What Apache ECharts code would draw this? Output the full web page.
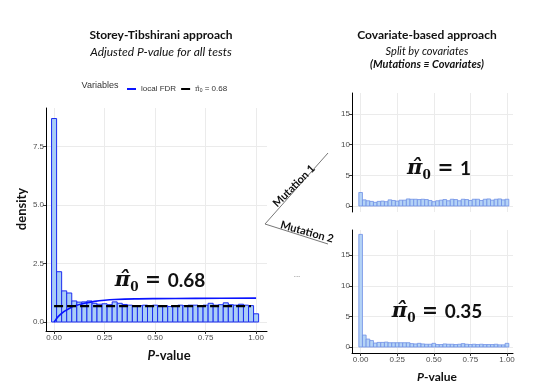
<!DOCTYPE html>
<html>
<head>
<meta charset="utf-8">
<script src="https://cdn.jsdelivr.net/npm/echarts@6/dist/echarts.min.js"></script>
<style>
html,body{margin:0;padding:0;background:#fff}
#main{width:533px;height:383px}
</style>
</head>
<body>
<div id="main"></div>
<script>
// bin centres of the histograms (binwidth 0.025)
var binMid = [0, 0.025, 0.05, 0.075, 0.1, 0.125, 0.15, 0.175, 0.2, 0.225, 0.25, 0.275, 0.3, 0.325, 0.35, 0.375, 0.4, 0.425, 0.45, 0.475, 0.5,
  0.525, 0.55, 0.575, 0.6, 0.625, 0.65, 0.675, 0.7, 0.725, 0.75, 0.775, 0.8, 0.825, 0.85, 0.875, 0.9, 0.925, 0.95, 0.975, 1];
var binW = 0.025;
// density, all tests
var allTests = [8.7, 2.15, 1.33, 1.24, 0.9, 0.85, 0.86, 0.9, 0.8, 0.76, 0.78, 0.74, 0.86, 0.8, 0.75, 0.72, 0.7, 0.7, 0.72, 0.7, 0.72,
  0.7, 0.7, 0.66, 0.68, 0.72, 0.7, 0.72, 0.72, 0.7, 0.72, 0.8, 0.72, 0.74, 0.82, 0.74, 0.72, 0.76, 0.72, 0.7, 0.35];
// density, mutation 1 / mutation 2
var mutation1 = [2.2, 1.0, 0.85, 0.75, 0.6, 0.75, 0.8, 0.7, 1.0, 0.9, 0.8, 0.95, 0.95, 1.15, 1.1, 1.1, 1.05, 1.1, 1.05, 0.9, 0.7,
  0.85, 0.95, 1.05, 0.85, 1.1, 1.05, 0.85, 1.1, 1.05, 0.9, 1.1, 1.1, 0.9, 1.1, 1.15, 0.95, 1.1, 1.15, 1.0, 1.1];
var mutation2 = [18.4, 1.95, 1.3, 1.05, 0.65, 0.75, 0.75, 0.8, 0.7, 0.7, 0.7, 0.7, 0.7, 0.7, 0.55, 0.5, 0.6, 0.5, 0.45, 0.45, 0.6,
  0.4, 0.4, 0.5, 0.45, 0.45, 0.4, 0.45, 0.55, 0.45, 0.4, 0.45, 0.4, 0.45, 0.4, 0.4, 0.4, 0.45, 0.35, 0.35, 0.6];
// local FDR curve
var lfdrP = [0, 0.01, 0.025, 0.05, 0.075, 0.1, 0.15, 0.2, 0.25, 0.3, 0.4, 0.5, 0.7, 1];
var lfdrVal = [0, 0.12, 0.27, 0.45, 0.58, 0.68, 0.8, 0.88, 0.93, 0.96, 0.99, 1.0, 1.01, 1.02];
var pi0All = 0.68;
var pi0End = 0.975;
// tick labels
var pTicks = [0, 0.25, 0.5, 0.75, 1];
var densTicks = [0, 2.5, 5, 7.5];
var covTicks = [0, 5, 10, 15];

var tickFont = 'Liberation Sans';
var sansBold = 'Lato';

function pairs(xs, ys) {
  return xs.map(function (x, i) { return [x, ys[i]]; });
}

function histItem(fill, edge, lw) {
  return function (params, api) {
    var x = api.value(0), y = api.value(1);
    var a = api.coord([x - binW / 2, y]);
    var b = api.coord([x + binW / 2, 0]);
    return {
      type: 'rect',
      shape: { x: a[0], y: a[1], width: b[0] - a[0], height: b[1] - a[1] },
      style: { fill: fill, stroke: edge, lineWidth: lw }
    };
  };
}

function xAx(grid, min, max, labels, line) {
  return {
    type: 'value', gridIndex: grid, min: min, max: max,
    axisLine: { show: line, onZero: false, lineStyle: { color: '#000', width: 1 } },
    axisTick: { show: labels, customValues: pTicks, length: 3, lineStyle: { color: '#333' } },
    axisLabel: { show: labels, customValues: pTicks, margin: 3, fontSize: 8, color: '#4d4d4d', fontFamily: tickFont,
      formatter: function (v) { return v.toFixed(2); } },
    splitLine: { show: true, lineStyle: { color: '#ebebeb', width: 1 } }
  };
}

function yAx(grid, min, max, ticks, dec) {
  return {
    type: 'value', gridIndex: grid, min: min, max: max,
    axisLine: { show: true, onZero: false, lineStyle: { color: '#000', width: 1 } },
    axisTick: { show: true, customValues: ticks, length: 3, lineStyle: { color: '#333' } },
    axisLabel: { customValues: ticks, margin: 2, fontSize: 8, color: '#4d4d4d', fontFamily: tickFont,
      formatter: function (v) { return v.toFixed(dec); } },
    splitLine: { show: true, lineStyle: { color: '#ebebeb', width: 1 } }
  };
}

var piRich = {
  p: { fontFamily: 'DejaVu Serif', fontWeight: 'bold', fontStyle: 'italic', fontSize: 21, lineHeight: 26, fill: '#111' },
  s: { fontFamily: 'DejaVu Serif', fontWeight: 'bold', fontSize: 12, lineHeight: 12, verticalAlign: 'bottom', fill: '#111' },
  e: { fontFamily: 'DejaVu Sans', fontWeight: 'bold', fontSize: 19, lineHeight: 26, fill: '#111' },
  t: { fontFamily: sansBold, fontWeight: 'bold', fontSize: 19, lineHeight: 26, fill: '#111' }
};

function piText(x, y, value) {
  return {
    type: 'text', x: x, y: y, z: 50,
    style: { text: '{p|\u03C0\u0302}{s|0}{e| = }{t|' + value + '}', rich: piRich, align: 'center', verticalAlign: 'middle' }
  };
}

function label(x, y, text, opts) {
  var st = { text: text, fontFamily: sansBold, fontSize: 12, fontWeight: 'bold', fill: '#111', align: 'center', verticalAlign: 'middle' };
  for (var k in opts) st[k] = opts[k];
  return { type: 'text', x: x, y: y, style: st };
}

var chart = echarts.init(document.getElementById('main'), null, { renderer: 'canvas' });

var option = {
  animation: false,
  backgroundColor: '#fff',
  grid: [
    { left: 46, top: 108, width: 221, height: 223, outerBoundsMode: 'none' },
    { left: 352, top: 93, width: 161, height: 119, outerBoundsMode: 'none' },
    { left: 352, top: 230, width: 161, height: 123, outerBoundsMode: 'none' }
  ],
  xAxis: [
    xAx(0, -0.04, 1.054, true, true),
    xAx(1, -0.059, 1.041, false, false),
    xAx(2, -0.059, 1.041, true, true)
  ],
  yAxis: [
    yAx(0, -0.385, 9.15, densTicks, 1),
    yAx(1, -0.98, 18.43, covTicks, 0),
    yAx(2, -0.98, 19.12, covTicks, 0)
  ],
  legend: {
    left: 122, top: 80, icon: 'rect', itemWidth: 9, itemHeight: 2, itemGap: 5,
    data: ['local FDR', 'pi0'],
    textStyle: { fontSize: 8, color: '#333', fontFamily: tickFont,
      rich: {
        p: { fontSize: 7, fontFamily: 'DejaVu Serif', color: '#333' },
        s: { fontSize: 5, color: '#333', verticalAlign: 'bottom', lineHeight: 6 }
      } },
    formatter: function (n) {
      return n === 'pi0' ? '{p|\u03C0\u0302}{s|0} = ' + pi0All : n;
    }
  },
  series: [
    {
      type: 'custom', name: 'all tests', xAxisIndex: 0, yAxisIndex: 0, z: 2,
      renderItem: histItem('#a9cdf6', '#1c2cf0', 1),
      data: pairs(binMid, allTests)
    },
    {
      type: 'line', name: 'local FDR', xAxisIndex: 0, yAxisIndex: 0, z: 4,
      smooth: 0.3, showSymbol: false, color: '#0a14ff',
      lineStyle: { width: 1.6, color: '#0a14ff' },
      data: pairs(lfdrP, lfdrVal)
    },
    {
      type: 'line', name: 'pi0', xAxisIndex: 0, yAxisIndex: 0, z: 5,
      showSymbol: false, color: '#000',
      lineStyle: { width: 2.2, color: '#000', type: [9, 4] },
      data: [[0, pi0All], [pi0End, pi0All]]
    },
    {
      type: 'custom', name: 'Mutation 1', xAxisIndex: 1, yAxisIndex: 1, z: 2,
      renderItem: histItem('#b4d3f6', '#6f8fe6', 0.8),
      data: pairs(binMid, mutation1)
    },
    {
      type: 'custom', name: 'Mutation 2', xAxisIndex: 2, yAxisIndex: 2, z: 2,
      renderItem: histItem('#b4d3f6', '#6f8fe6', 0.8),
      data: pairs(binMid, mutation2)
    }
  ],
  graphic: [
    label(161, 35, 'Storey-Tibshirani approach', {}),
    label(161, 52, 'Adjusted P-value for all tests', { fontWeight: 'normal', fontStyle: 'italic' }),
    label(427, 35, 'Covariate-based approach', {}),
    label(427, 51, 'Split by covariates', { fontWeight: 'normal', fontStyle: 'italic', fontSize: 11 }),
    label(427, 64, '(Mutations \u2261 Covariates)', { fontStyle: 'italic', fontSize: 11 }),
    label(100, 86, 'Variables', { fontFamily: tickFont, fontWeight: 'normal', fontSize: 9, fill: '#333' }),
    {
      type: 'text', x: 22, y: 209, rotation: Math.PI / 2,
      style: { text: 'density', fontFamily: sansBold, fontWeight: 'bold', fontSize: 13, fill: '#111', align: 'center', verticalAlign: 'middle' }
    },
    {
      type: 'text', x: 169, y: 356,
      style: { text: '{i|P}-value', fontFamily: sansBold, fontWeight: 'bold', fontSize: 13, fill: '#111', align: 'center', verticalAlign: 'middle',
        rich: { i: { fontFamily: sansBold, fontWeight: 'bold', fontStyle: 'italic', fontSize: 13, fill: '#111' } } }
    },
    {
      type: 'text', x: 437, y: 377,
      style: { text: '{i|P}-value', fontFamily: sansBold, fontWeight: 'bold', fontSize: 12, fill: '#111', align: 'center', verticalAlign: 'middle',
        rich: { i: { fontFamily: sansBold, fontWeight: 'bold', fontStyle: 'italic', fontSize: 12, fill: '#111' } } }
    },
    piText(160, 281, '0.68'),
    piText(439, 169, '1'),
    piText(437, 312, '0.35'),
    { type: 'line', shape: { x1: 265, y1: 224, x2: 328, y2: 153 }, style: { stroke: '#777', lineWidth: 1 } },
    { type: 'line', shape: { x1: 265, y1: 224, x2: 328, y2: 244 }, style: { stroke: '#777', lineWidth: 1 } },
    {
      type: 'text', x: 294, y: 186, rotation: Math.PI / 4,
      style: { text: 'Mutation 1', fontFamily: sansBold, fontWeight: 'bold', fontSize: 11, fill: '#111', align: 'center', verticalAlign: 'middle' }
    },
    {
      type: 'text', x: 307, y: 232, rotation: -0.27,
      style: { text: 'Mutation 2', fontFamily: sansBold, fontWeight: 'bold', fontSize: 11, fill: '#111', align: 'center', verticalAlign: 'middle' }
    },
    label(297, 275, '...', { fontFamily: tickFont, fontWeight: 'normal', fontSize: 8, fill: '#666' })
  ]
};

chart.setOption(option);
</script>
</body>
</html>
